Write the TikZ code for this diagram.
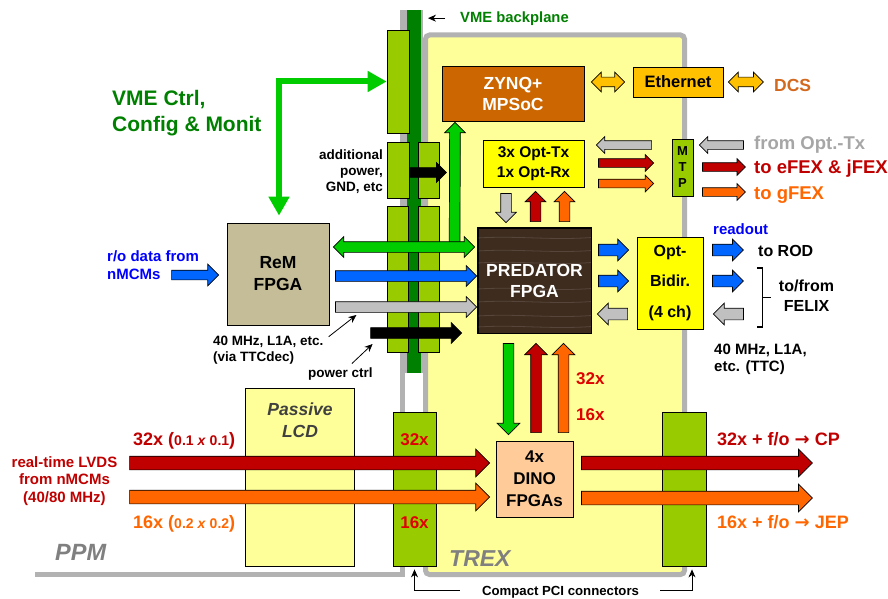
\documentclass[tikz,border=0pt]{standalone}
\usepackage{fontspec}
\setmainfont{Liberation Sans}
\newfontfamily\arrowsym{DejaVu Sans}
\usepackage{tikz}
\usetikzlibrary{calc, shapes.arrows, arrows.meta}
\definecolor{boardyellow}{HTML}{FFFF99}
\definecolor{optyellow}{HTML}{FFFF00}
\definecolor{conngreen}{HTML}{99CC00}
\definecolor{vmegreen}{HTML}{008000}
\definecolor{linkgreen}{HTML}{00CC00}
\definecolor{linkblue}{HTML}{0066FF}
\definecolor{linkgray}{HTML}{C0C0C0}
\definecolor{lvdsred}{HTML}{C00000}
\definecolor{lvdsorange}{HTML}{FF6600}
\definecolor{zynqbrown}{HTML}{CC6600}
\definecolor{dcsorange}{HTML}{D2691E}
\definecolor{ethamber}{HTML}{FFC000}
\definecolor{remtan}{HTML}{C4BD97}
\definecolor{dinopeach}{HTML}{FFCC99}
\definecolor{wood}{HTML}{3E2C1F}
\definecolor{frame}{HTML}{B2B2B2}
\definecolor{multred}{HTML}{E00000}
\definecolor{txtblue}{HTML}{0000FF}
\newcommand{\fsz}[2]{\fontsize{#1}{#2}\selectfont}
% block arrow, tail at #2, tip at #3
\newcommand{\blk}[3][]{\path let \p1=#2, \p2=#3, \n1={veclen(\x2-\x1,\y2-\y1)}, \n2={atan2(\y2-\y1,\x2-\x1)} in (\p1) node[sarrow, #1, anchor=tail, minimum height=\n1, rotate=\n2] {};}
% double headed block arrow between #2 and #3
\newcommand{\dblk}[3][]{\path let \p1=#2, \p2=#3, \n1={veclen(\x2-\x1,\y2-\y1)}, \n2={atan2(\y2-\y1,\x2-\x1)} in ($(\p1)!0.5!(\p2)$) node[darrow, #1, minimum height=\n1, rotate=\n2] {};}

\begin{document}
\begin{tikzpicture}[x=1pt, y=-1pt,
        box/.style = {draw=black, line width=0.8pt, rectangle, inner sep=0pt, align=center},
        conn/.style = {draw=black, line width=0.8pt, fill=conngreen, inner sep=0pt},
        lbl/.style = {inner sep=0pt, align=left},
        sarrow/.style = {single arrow, draw=black, line width=0.7pt, inner sep=0pt, outer sep=0pt, minimum width=0pt, inner ysep=5pt, single arrow head extend=5pt},
        slim/.style = {inner ysep=4pt, single arrow head extend=4pt},
        fat/.style = {inner ysep=6.5pt, single arrow head extend=7pt},
        darrow/.style = {double arrow, draw=black, line width=0.7pt, inner sep=0pt, outer sep=0pt, minimum width=0pt, inner ysep=4.5pt, double arrow head extend=5pt},
        pointer/.style = {draw=black, line width=0.8pt, -{Stealth[length=8pt, width=7pt]}},
        vme/.style = {draw=linkgreen, line width=6pt, {Triangle[length=19pt, width=20pt]}-{Triangle[length=19pt, width=20pt]}},
        grain/.style = {draw=white, opacity=0.12, line width=0.8pt}
    ]
    \useasboundingbox (0,0) rectangle (888,599);

    % PPM backplane and outline
    \fill[frame] (400,10) rectangle (423,373);
    \fill[vmegreen] (407,10) rectangle (421,373);
    \draw[frame, line width=5pt] (402.5,373) -- (402.5,574.5) -- (35,574.5);

    % TREX board
    \node[draw=frame, line width=5pt, fill=boardyellow, rounded corners=4pt, inner sep=0pt, minimum width=259pt, minimum height=539.5pt] (trex) at (555,304.75) {};

    % connectors
    \node[conn, minimum width=22pt, minimum height=103pt] (vc1) at (398,81.5) {};
    \node[conn, minimum width=22pt, minimum height=56pt] (vc2) at (398,170) {};
    \node[conn, minimum width=21pt, minimum height=56pt] (vc3) at (428.5,170) {};
    \node[conn, minimum width=21pt, minimum height=146pt] (vc4) at (397.5,279) {};
    \node[conn, minimum width=21pt, minimum height=146pt] (vc5) at (428.5,279) {};
    \node[conn, minimum width=43pt, minimum height=154pt] (pci1) at (414.5,489) {};
    \node[conn, minimum width=44pt, minimum height=154pt] (pci2) at (684,489) {};

    % boxes
    \node[box, fill=boardyellow, minimum width=109pt, minimum height=178pt] (lcd) at (299.5,477) {};
    \node[box, fill=remtan, minimum width=102pt, minimum height=102pt, font=\bfseries\fsz{17.5}{22}] (rem) at (278,274) {ReM\\FPGA};
    \node[box, fill=zynqbrown, text=white, minimum width=142pt, minimum height=55pt, font=\bfseries\fsz{17.5}{21}] (zynq) at (513,93.5) {ZYNQ+\\MPSoC};
    \node[box, fill=ethamber, minimum width=90pt, minimum height=30pt, font=\bfseries\fsz{16.5}{20}] (eth) at (678,82) {Ethernet};
    \node[box, fill=optyellow, minimum width=101pt, minimum height=47pt, font=\bfseries\fsz{15.5}{20}] (opttx) at (533.5,163.5) {3x Opt-Tx\\1x Opt-Rx};
    \node[box, fill=conngreen, minimum width=21pt, minimum height=57pt, font=\bfseries\fsz{13}{16}] (mtp) at (682.5,167.5) {M\\T\\P};
    \node[box, fill=wood, minimum width=113pt, minimum height=105pt] (pred) at (534.5,280.5) {};
    \begin{scope}
        \clip (pred.north west) rectangle (pred.south east);
        \foreach \gy in {238,251,263,289,302,316,327}
            \draw[grain] ($(pred.west)+(0,\gy-280.5)$) .. controls ($(pred.west)+(40,\gy-283)$) and ($(pred.east)+(-40,\gy-278)$) .. ($(pred.east)+(0,\gy-281)$);
    \end{scope}
    \node[lbl, align=center, text=white, font=\bfseries\fsz{17.5}{21}] (predtxt) at (pred.center) {PREDATOR\\FPGA};
    \draw[line width=0.8pt] (pred.north west) rectangle (pred.south east);
    \node[box, fill=optyellow, minimum width=66pt, minimum height=92pt, font=\bfseries\fsz{16}{30.5}] (bidir) at (670,283) {Opt-\\Bidir.\\(4 ch)};
    \node[box, fill=dinopeach, minimum width=77pt, minimum height=76pt, font=\bfseries\fsz{17}{22}] (dino) at (534.5,479) {4x\\DINO\\FPGAs};

    % VME control path
    \draw[vme, shorten <=7pt] ($(rem.north)+(1,0)$) |- (vc1.west);

    % arrows left of PREDATOR
    \blk[fill=linkblue, inner ysep=4.5pt, single arrow head extend=6pt]{($(rem.west)+(-55,1)$)}{($(rem.west)+(-8,1)$)}
    \blk[fill=linkgreen]{($(pred.west)+(-23,-33.5)$)}{($(zynq.south)+(-58,1)$)}
    \dblk[fill=linkgreen, inner ysep=5pt]{($(rem.east)+(4,-27)$)}{($(pred.west)+(-3,-33.5)$)}
    \blk[fill=linkblue]{($(rem.east)+(6,2)$)}{($(pred.west)+(-1,-4.5)$)}
    \blk[fill=linkgray]{($(rem.east)+(6,33)$)}{($(pred.west)+(-1,26.5)$)}
    \blk[fill=black]{($(vc4.west)+(-16,54)$)}{($(pred.west)+(-16,52.5)$)}
    \blk[fill=black, inner ysep=4.5pt]{($(vc2.east)+(0,2.5)$)}{($(vc3.east)+(7,2.5)$)}

    % Ethernet links
    \dblk[fill=ethamber]{($(zynq.east)+(7,-11.5)$)}{($(eth.west)+(-8,0)$)}
    \dblk[fill=ethamber]{($(eth.east)+(5,0)$)}{($(eth.east)+(40,0)$)}

    % optical links via MTP
    \blk[fill=linkgray, slim]{($(mtp.west)+(-20,-22.5)$)}{($(opttx.east)+(12,-18.5)$)}
    \blk[fill=lvdsred, slim]{($(opttx.east)+(14,-0.5)$)}{($(mtp.west)+(-18,-4.5)$)}
    \blk[fill=lvdsorange, slim]{($(opttx.east)+(14,20)$)}{($(mtp.west)+(-18,16)$)}
    \blk[fill=linkgray, slim]{($(mtp.east)+(50,-22.5)$)}{($(mtp.east)+(6,-22.5)$)}
    \blk[fill=lvdsred, slim]{($(mtp.east)+(9,-0.5)$)}{($(mtp.east)+(52,-0.5)$)}
    \blk[fill=lvdsorange, slim]{($(mtp.east)+(9,24.5)$)}{($(mtp.east)+(52,24.5)$)}

    % Opt-Tx <-> PREDATOR
    \blk[fill=linkgray]{($(opttx.south)+(-27.5,6)$)}{($(pred.north)+(-28.5,-5)$)}
    \blk[fill=lvdsred]{($(pred.north)+(1,-6)$)}{($(opttx.south)+(2,4)$)}
    \blk[fill=lvdsorange]{($(pred.north)+(30,-6)$)}{($(opttx.south)+(31,4)$)}

    % PREDATOR <-> Opt-Bidir and beyond
    \blk[fill=linkblue, inner ysep=5.5pt]{($(pred.east)+(7,-30.5)$)}{($(bidir.west)+(-8,-33)$)}
    \blk[fill=linkblue, inner ysep=5.5pt]{($(pred.east)+(7,0.5)$)}{($(bidir.west)+(-8,-2)$)}
    \blk[fill=linkgray, inner ysep=5.5pt]{($(bidir.west)+(-9,31)$)}{($(pred.east)+(6,33.5)$)}
    \blk[fill=linkblue, inner ysep=5.5pt]{($(bidir.east)+(9,-33)$)}{($(bidir.east)+(40,-33)$)}
    \blk[fill=linkblue, inner ysep=5.5pt]{($(bidir.east)+(9,-2)$)}{($(bidir.east)+(40,-2)$)}
    \blk[fill=linkgray, inner ysep=5.5pt]{($(bidir.east)+(40,31)$)}{($(bidir.east)+(10,31)$)}

    % PREDATOR <-> DINO
    \blk[fill=linkgreen, single arrow head extend=6pt]{($(pred.south)+(-26,10)$)}{($(dino.north)+(-26,-6)$)}
    \blk[fill=lvdsred, single arrow head extend=6pt]{($(dino.north)+(1.5,-8)$)}{($(pred.south)+(1.5,10)$)}
    \blk[fill=lvdsorange, single arrow head extend=6pt]{($(dino.north)+(29,-8)$)}{($(pred.south)+(29,10)$)}

    % real-time LVDS
    \blk[fill=lvdsred, fat]{($(lcd.west)+(-115,-14)$)}{($(dino.west)+(-6,-16)$)}
    \blk[fill=lvdsorange, fat]{($(lcd.west)+(-115,20)$)}{($(dino.west)+(-6,18)$)}
    \blk[fill=lvdsred, fat]{($(dino.east)+(8,-16)$)}{($(pci2.east)+(106,-26)$)}
    \blk[fill=lvdsorange, fat]{($(dino.east)+(8,19)$)}{($(pci2.east)+(106,9)$)}

    % labels
    \node[lbl, anchor=base west, text=vmegreen, font=\bfseries\fsz{14.8}{18}] (vmebp) at (460,23) {VME backplane};
    \node[lbl, anchor=west, text=vmegreen, font=\bfseries\fsz{21}{26}] (vmectrl) at (112,113.5) {VME Ctrl,\\Config \& Monit};
    \node[lbl, anchor=east, align=right, font=\bfseries\fsz{13.5}{16}] (addpow) at (383,172) {additional\\power,\\GND, etc};
    \node[lbl, anchor=west, text=txtblue, font=\bfseries\fsz{15}{17.6}] (rodata) at (107,265) {r/o data from\\nMCMs};
    \node[lbl, anchor=west, font=\bfseries\fsz{13.5}{16}] (ttcdec) at (213,350) {40 MHz, L1A, etc.\\(via TTCdec)};
    \node[lbl, anchor=west, font=\bfseries\fsz{13.5}{16}] (powctrl) at (308,374) {power ctrl};
    \node[lbl, anchor=base west, text=dcsorange, font=\bfseries\fsz{17.5}{20}] (dcs) at (774,92) {DCS};
    \node[lbl, anchor=base west, text=gray!70, font=\bfseries\fsz{18.5}{22}] (fromtx) at (754,149) {from Opt.-Tx};
    \node[lbl, anchor=base west, text=lvdsred, font=\bfseries\fsz{18.5}{22}] (toefex) at (754,173) {to eFEX \& jFEX};
    \node[lbl, anchor=base west, text=lvdsorange, font=\bfseries\fsz{18.5}{22}] (togfex) at (754,199) {to gFEX};
    \node[lbl, anchor=base west, text=txtblue, font=\bfseries\fsz{15}{18}] (readout) at (713,234) {readout};
    \node[lbl, anchor=base west, font=\bfseries\fsz{16}{20}] (torod) at (758,256) {to ROD};
    \node[lbl, align=center, font=\bfseries\fsz{16}{20}] (felix) at (806.5,296) {to/from\\FELIX};
    \node[lbl, anchor=west, font=\bfseries\fsz{15}{17}] (ttc) at (714,359) {40 MHz, L1A,\\etc. (TTC)};
    \node[lbl, anchor=base west, text=multred, font=\bfseries\fsz{17}{20}] (v32) at (576,384) {32x};
    \node[lbl, anchor=base west, text=multred, font=\bfseries\fsz{17}{20}] (v16) at (576,420) {16x};
    \node[lbl, align=center, text=black!75, font=\bfseries\itshape\fsz{17.5}{21.5}] (lcdtxt) at (300,420) {Passive\\LCD};
    \node[lbl, anchor=base west, text=lvdsred, font=\bfseries\fsz{18}{20}] (in32) at (133,445) {32x ({\fsz{14}{16}0.1 \textit{x} 0.1})};
    \node[lbl, anchor=base west, text=lvdsorange, font=\bfseries\fsz{18}{20}] (in16) at (133,528) {16x ({\fsz{14}{16}0.2 \textit{x} 0.2})};
    \node[lbl, align=center, text=lvdsred, font=\bfseries\fsz{15}{17.5}] (lvds) at (64.5,481) {real-time LVDS\\from nMCMs\\(40/80 MHz)};
    \node[lbl, anchor=base, text=multred, font=\bfseries\fsz{17}{20}] (c32) at (414.5,445) {32x};
    \node[lbl, anchor=base, text=multred, font=\bfseries\fsz{17}{20}] (c16) at (414.5,528.5) {16x};
    \node[lbl, anchor=base west, text=lvdsred, font=\bfseries\fsz{18}{20}] (cp) at (717,445) {32x + f/o {\arrowsym\bfseries →} CP};
    \node[lbl, anchor=base west, text=lvdsorange, font=\bfseries\fsz{18}{20}] (jep) at (717,528) {16x + f/o {\arrowsym\bfseries →} JEP};
    \node[lbl, anchor=base west, text=black!50, font=\bfseries\itshape\fsz{23.5}{26}] (ppm) at (55,560) {PPM};
    \node[lbl, anchor=base west, text=black!50, font=\bfseries\itshape\fsz{23}{26}] (trexlbl) at (449,566) {TREX};
    \node[lbl, anchor=base, font=\bfseries\fsz{13.2}{16}] (pci) at (560.5,595) {Compact PCI connectors};

    % FELIX bracket
    \draw[line width=1.2pt] ($(felix.west)+(-22,-28)$) -| ($(felix.west)+(-16,31)$) -- ($(felix.west)+(-22,31)$);
    \draw[line width=1.2pt] ($(felix.west)+(-16,1.5)$) -- ($(felix.west)+(-8,1.5)$);

    % pointers
    \draw[pointer] ($(vmebp.west)+(-15,-1)$) -- ($(vmebp.west)+(-32,-1)$);
    \draw[pointer] ($(ttcdec.north east)+(5,1)$) -- ($(rem.east)+(27,41)$);
    \draw[pointer] ($(powctrl.north)+(11.5,-4)$) -- ($(vc4.west)+(-14,65)$);
    \draw[pointer, shorten >=3pt] ($(pci.west)+(-22,-1)$) -| (pci1.south);
    \draw[pointer, shorten >=3pt] ($(pci.east)+(21,-1)$) -| ($(pci2.south)+(8,0)$);

\end{tikzpicture}
\end{document}
